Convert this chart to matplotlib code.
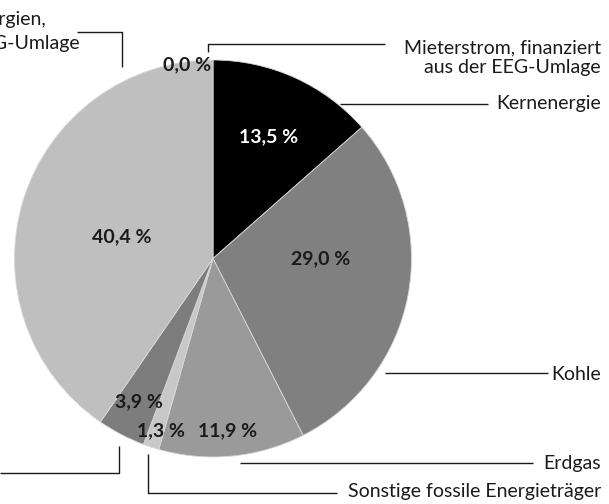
import matplotlib
matplotlib.use("Agg")
import matplotlib.pyplot as plt

# Data (clockwise from top)
categories = ["Mieterstrom, finanziert\naus der EEG-Umlage", "Kernenergie", "Kohle", "Erdgas",
              "Sonstige fossile Energieträger", "Sonstige Energieträger",
              "Erneuerbare Energien,", "finanziert aus der EEG-Umlage"]
values = [0.0, 13.5, 29.0, 11.9, 1.3, 3.9, 40.4]
pct_labels = ["0,0 %", "13,5 %", "29,0 %", "11,9 %", "1,3 %", "3,9 %", "40,4 %"]
colors = ["#d0d0d0", "#000000", "#808080", "#9a9a9a", "#c8c8c8", "#7d7d7d", "#bfbfbf"]

W, H = 609, 504
fig = plt.figure(figsize=(W / 100, H / 100), dpi=100)
ax = fig.add_axes([0, 0, 1, 1])

cx, cy, r = 213, H - 258.5, 198.5
ax.pie(values, colors=colors, startangle=90, counterclock=False, center=(cx, cy), radius=r,
       wedgeprops=dict(edgecolor="#d8d8d8", linewidth=0.6), frame=True)
ax.set_xlim(0, W)
ax.set_ylim(0, H)
ax.set_aspect("equal")
ax.axis("off")

fam = ["Lato", "DejaVu Sans"]
def Y(p):
    return H - p

# percentage labels (pixel positions)
pct_pos = [(187, 65), (269, 137), (321, 259), (228, 431), (161, 431), (139, 402), (122, 237)]
for lab, (x, y), c in zip(pct_labels, pct_pos, colors):
    col = "white" if c == "#000000" else "#1a1a1a"
    ax.text(x, Y(y), lab, ha="center", va="center", fontsize=14, fontweight="bold",
            color=col, family=fam)

lc = "#1a1a1a"
lw = 1.0
def line(xs, ys):
    ax.plot(xs, [Y(v) for v in ys], color=lc, lw=lw, solid_capstyle="butt")

# leader lines
line([208, 208, 385], [52, 44, 44])          # Mieterstrom
line([340, 488], [104, 104])                 # Kernenergie
line([385, 548], [373, 373])                 # Kohle
line([240, 533], [463, 463])                 # Erdgas
line([148, 148, 337], [454, 493, 493])       # Sonstige fossile
line([119, 119, 0], [446, 473, 473])         # Sonstige
line([122, 122, 77], [67, 32, 32])           # Erneuerbare

tk = dict(fontsize=14, color="#1a1a1a", family=fam)
ax.text(601, Y(58), categories[0], ha="right", va="center", linespacing=1.2, **tk)
ax.text(601, Y(104), categories[1], ha="right", va="center", **tk)
ax.text(601, Y(375), categories[2], ha="right", va="center", **tk)
ax.text(601, Y(463), categories[3], ha="right", va="center", **tk)
ax.text(601, Y(491), categories[4], ha="right", va="center", **tk)
ax.text(46, Y(20), categories[6], ha="right", va="center", **tk)
ax.text(80, Y(44), categories[7], ha="right", va="center", **tk)

fig.savefig("out.png", dpi=100)
